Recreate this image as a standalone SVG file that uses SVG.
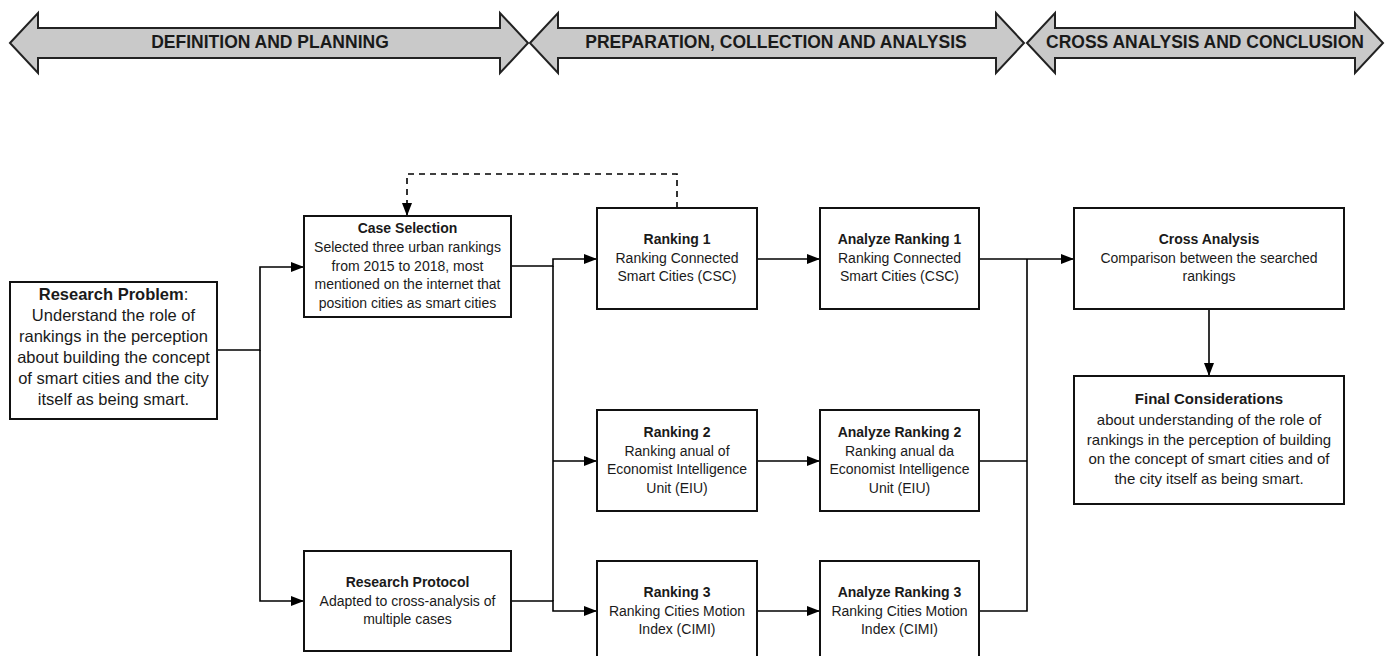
<svg xmlns="http://www.w3.org/2000/svg" width="1389" height="656" viewBox="0 0 1389 656">
<style>
.band{fill:#c9c9c9;stroke:#222;stroke-width:2;stroke-linejoin:miter}
.bt{font-family:"Liberation Sans",Arial,sans-serif;font-weight:bold;font-size:17.5px;fill:#1a1a1a;text-anchor:middle}
.box{fill:#fff;stroke:#111;stroke-width:2}
.t{font-family:"Liberation Sans",Arial,sans-serif;font-size:14px;fill:#1a1a1a;text-anchor:middle}
.b{font-weight:bold}
.big{font-size:16.5px}
.mid{font-size:15px}
.c{fill:none;stroke:#000;stroke-width:1.6}
.d{stroke-dasharray:6,5}
</style>
<defs>
<marker id="ah" markerUnits="userSpaceOnUse" markerWidth="13" markerHeight="10" refX="13" refY="5" orient="auto">
<path d="M0,0 L13,5 L0,10 z" fill="#000"/>
</marker>
</defs>
<rect width="1389" height="656" fill="#fff"/>
<g id="phase1">
<polygon class="band" points="10,43 38,13 38,28 500,28 500,13 528,43 500,73 500,58 38,58 38,73"/>
<text class="bt" x="270" y="48">DEFINITION AND PLANNING</text>
</g>
<g id="phase2">
<polygon class="band" points="530,43 558,13 558,28 996,28 996,13 1024,43 996,73 996,58 558,58 558,73"/>
<text class="bt" x="776" y="48">PREPARATION, COLLECTION AND ANALYSIS</text>
</g>
<g id="phase3">
<polygon class="band" points="1027,43 1055,13 1055,28 1355,28 1355,13 1383,43 1355,73 1355,58 1055,58 1055,73"/>
<text class="bt" x="1205" y="48">CROSS ANALYSIS AND CONCLUSION</text>
</g>
<g id="connectors">
<path class="c" d="M217 350 H260 V267 H304" marker-end="url(#ah)"/>
<path class="c" d="M260 350 V601 H304" marker-end="url(#ah)"/>
<path class="c" d="M511 266 H553 V259 H597" marker-end="url(#ah)"/>
<path class="c" d="M511 601 H553 V611 H597" marker-end="url(#ah)"/>
<path class="c" d="M553 266 V601"/>
<path class="c" d="M553 461 H597" marker-end="url(#ah)"/>
<path class="c" d="M757 259 H820" marker-end="url(#ah)"/>
<path class="c" d="M757 461 H820" marker-end="url(#ah)"/>
<path class="c" d="M757 611 H820" marker-end="url(#ah)"/>
<path class="c" d="M979 259 H1074" marker-end="url(#ah)"/>
<path class="c" d="M979 461 H1027"/>
<path class="c" d="M979 611 H1027 V259"/>
<path class="c" d="M1209 309 V376" marker-end="url(#ah)"/>
<path class="c d" d="M677 208 V174 H407 V216" marker-end="url(#ah)"/>
</g>
<g id="research-problem">
<rect class="box" x="10" y="282" width="207" height="137"/>
<text class="t big" x="113.5" y="300"><tspan class="b">Research Problem</tspan>:</text>
<text class="t big" x="113.5" y="321">Understand the role of</text>
<text class="t big" x="113.5" y="342">rankings in the perception</text>
<text class="t big" x="113.5" y="363">about building the concept</text>
<text class="t big" x="113.5" y="384">of smart cities and the city</text>
<text class="t big" x="113.5" y="405">itself as being smart.</text>
</g>
<g id="case-selection">
<rect class="box" x="304" y="216" width="207" height="101"/>
<text class="t b" x="407.5" y="233">Case Selection</text>
<text class="t" x="407.5" y="252">Selected three urban rankings</text>
<text class="t" x="407.5" y="270.5">from 2015 to 2018, most</text>
<text class="t" x="407.5" y="289">mentioned on the internet that</text>
<text class="t" x="407.5" y="307.5">position cities as smart cities</text>
</g>
<g id="research-protocol">
<rect class="box" x="304" y="551" width="207" height="100"/>
<text class="t b" x="407.5" y="587">Research Protocol</text>
<text class="t" x="407.5" y="605.5">Adapted to cross-analysis of</text>
<text class="t" x="407.5" y="624">multiple cases</text>
</g>
<g id="ranking-1">
<rect class="box" x="597" y="208" width="160" height="101"/>
<text class="t b" x="677" y="244">Ranking 1</text>
<text class="t" x="677" y="262.5">Ranking Connected</text>
<text class="t" x="677" y="281">Smart Cities (CSC)</text>
</g>
<g id="ranking-2">
<rect class="box" x="597" y="410" width="160" height="101"/>
<text class="t b" x="677" y="437">Ranking 2</text>
<text class="t" x="677" y="455.5">Ranking anual of</text>
<text class="t" x="677" y="474">Economist Intelligence</text>
<text class="t" x="677" y="492.5">Unit (EIU)</text>
</g>
<g id="ranking-3">
<rect class="box" x="597" y="561" width="160" height="101"/>
<text class="t b" x="677" y="597">Ranking 3</text>
<text class="t" x="677" y="615.5">Ranking Cities Motion</text>
<text class="t" x="677" y="634">Index (CIMI)</text>
</g>
<g id="analyze-1">
<rect class="box" x="820" y="208" width="159" height="101"/>
<text class="t b" x="899.5" y="244">Analyze Ranking 1</text>
<text class="t" x="899.5" y="262.5">Ranking Connected</text>
<text class="t" x="899.5" y="281">Smart Cities (CSC)</text>
</g>
<g id="analyze-2">
<rect class="box" x="820" y="410" width="159" height="101"/>
<text class="t b" x="899.5" y="437">Analyze Ranking 2</text>
<text class="t" x="899.5" y="455.5">Ranking anual da</text>
<text class="t" x="899.5" y="474">Economist Intelligence</text>
<text class="t" x="899.5" y="492.5">Unit (EIU)</text>
</g>
<g id="analyze-3">
<rect class="box" x="820" y="561" width="159" height="101"/>
<text class="t b" x="899.5" y="597">Analyze Ranking 3</text>
<text class="t" x="899.5" y="615.5">Ranking Cities Motion</text>
<text class="t" x="899.5" y="634">Index (CIMI)</text>
</g>
<g id="cross-analysis">
<rect class="box" x="1074" y="208" width="270" height="101"/>
<text class="t b" x="1209" y="244">Cross Analysis</text>
<text class="t" x="1209" y="262.5">Comparison between the searched</text>
<text class="t" x="1209" y="281">rankings</text>
</g>
<g id="final-considerations">
<rect class="box" x="1074" y="376" width="270" height="128"/>
<text class="t mid b" x="1209" y="404">Final Considerations</text>
<text class="t mid" x="1209" y="424.5">about understanding of the role of</text>
<text class="t mid" x="1209" y="444.5">rankings in the perception of building</text>
<text class="t mid" x="1209" y="464">on the concept of smart cities and of</text>
<text class="t mid" x="1209" y="483.5">the city itself as being smart.</text>
</g>
</svg>
